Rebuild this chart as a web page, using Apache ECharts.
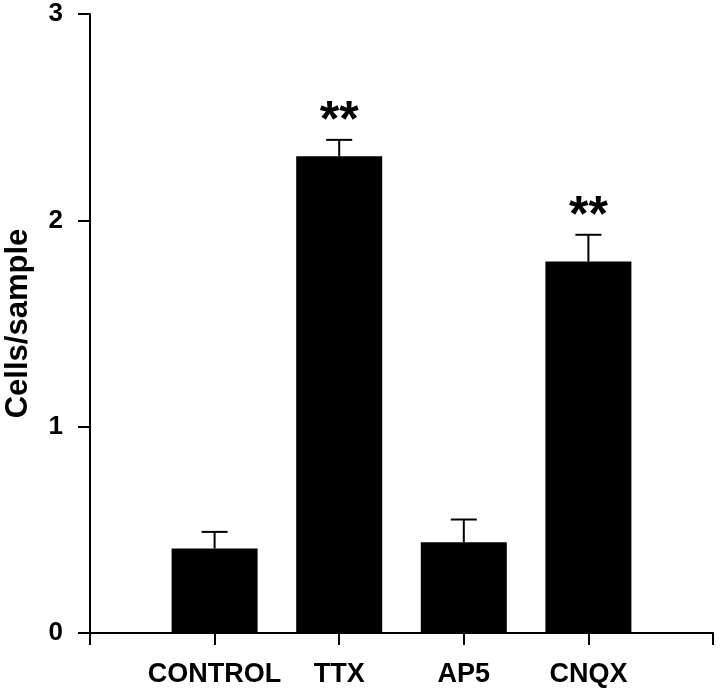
<!DOCTYPE html>
<html>
<head>
<meta charset="utf-8">
<script src="https://cdn.jsdelivr.net/npm/echarts@6/dist/echarts.min.js"></script>
<style>html,body{margin:0;padding:0;background:#fff;}#c{width:720px;height:689px;}</style>
</head>
<body>
<div id="c"></div>
<script>
var categories = ['CONTROL', 'TTX', 'AP5', 'CNQX'];
var means = [0.41, 2.31, 0.44, 1.80];
var errors = [0.08, 0.08, 0.11, 0.13];
var marks = ['', '**', '', '**'];
var yTicks = [0, 1, 2, 3];

var axisCats = [''].concat(categories).concat(['']);
var barData = [null].concat(means).concat([null]);
var errData = categories.map(function (c, i) { return [i + 1, means[i], errors[i], marks[i]]; });

var chart = echarts.init(document.getElementById('c'), null, {renderer: 'canvas'});
chart.setOption({
  animation: false,
  backgroundColor: '#ffffff',
  grid: {left: 90, right: 7, top: 14, bottom: 56, containLabel: false, outerBoundsMode: 'none'},
  xAxis: {
    type: 'category',
    data: axisCats,
    boundaryGap: false,
    axisLine: {lineStyle: {color: '#000', width: 2}},
    axisTick: {show: true, length: 12, lineStyle: {color: '#000', width: 2}},
    axisLabel: {color: '#000', fontFamily: 'Liberation Sans', fontWeight: 'bold', fontSize: 27, margin: 28, interval: 0},
    splitLine: {show: false}
  },
  yAxis: {
    type: 'value',
    min: yTicks[0], max: yTicks[yTicks.length - 1], interval: 1,
    name: 'Cells/sample',
    nameLocation: 'middle',
    nameGap: 56,
    nameTextStyle: {color: '#000', fontFamily: 'Liberation Sans', fontWeight: 'bold', fontSize: 31},
    axisLine: {show: true, lineStyle: {color: '#000', width: 2}},
    axisTick: {show: true, length: 12, lineStyle: {color: '#000', width: 2}},
    axisLabel: {color: '#000', fontFamily: 'Liberation Sans', fontWeight: 'bold', fontSize: 26, margin: 27},
    splitLine: {show: false}
  },
  series: [
    {
      type: 'bar',
      data: barData,
      barWidth: 86,
      itemStyle: {color: '#000'}
    },
    {
      type: 'custom',
      data: errData,
      encode: {x: 0, y: 1},
      z: 5,
      renderItem: function (params, api) {
        var idx = api.value(0);
        var m = api.value(1);
        var e = api.value(2);
        var sig = errData[params.dataIndex][3];
        var base = api.coord([idx, m]);
        var top = api.coord([idx, m + e]);
        var hw = 13;
        var children = [
          {type: 'line', shape: {x1: base[0], y1: base[1], x2: top[0], y2: top[1]}, style: {stroke: '#000', lineWidth: 2}},
          {type: 'line', shape: {x1: top[0] - hw, y1: top[1], x2: top[0] + hw, y2: top[1]}, style: {stroke: '#000', lineWidth: 2}}
        ];
        if (sig) {
          children.push({type: 'text', style: {text: sig, x: top[0], y: top[1] - 18, align: 'center', verticalAlign: 'middle', fill: '#000', fontFamily: 'Liberation Sans', fontWeight: 'bold', fontSize: 50}});
        }
        return {type: 'group', children: children};
      }
    }
  ]
});
</script>
</body>
</html>
